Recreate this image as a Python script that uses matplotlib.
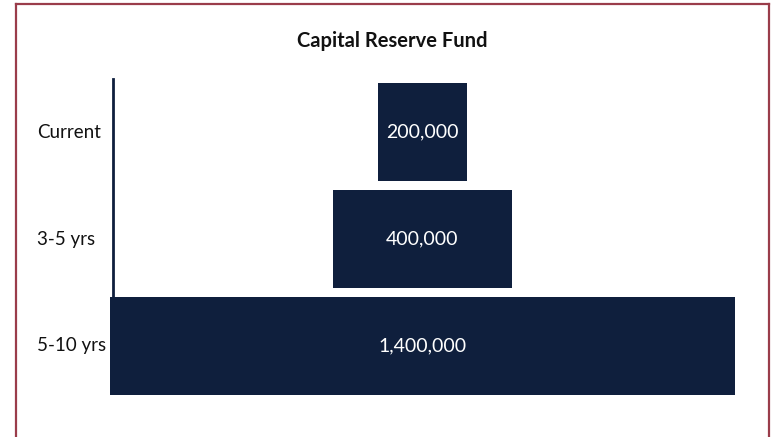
import matplotlib
matplotlib.use("Agg")
import matplotlib.pyplot as plt
import matplotlib.transforms as mtransforms

plt.rcParams['font.family'] = ['Lato', 'DejaVu Sans']

categories = ["Current", "3-5 yrs", "5-10 yrs"]
values = [200000, 400000, 1400000]
value_labels = ["200,000", "400,000", "1,400,000"]

bar_color = '#0f1f3d'
border_color = '#9a3c4a'

fig = plt.figure(figsize=(7.73, 4.37), dpi=100)
W, H = 773, 437

# outer frame (open at the bottom)
top = 1 - 4 / H
for xs, ys in [([16 / W, 16 / W], [0, top]),
               ([769 / W, 769 / W], [0, top]),
               ([16 / W, 769 / W], [top, top])]:
    fig.add_artist(plt.Line2D(xs, ys, transform=fig.transFigure, color=border_color, lw=1.6))

ax = fig.add_axes([110 / W, 1 - 399 / H, 625 / W, 320 / H])

xmax = max(values)
center = xmax / 2
ypos = list(range(len(categories)))
lefts = [center - v / 2 for v in values]
bar_h = 0.92
ax.barh(ypos, values, left=lefts, height=bar_h, color=bar_color, zorder=2)

for y, v, lab in zip(ypos, values, value_labels):
    ax.text(center, y, lab, ha='center', va='center', color='white', fontsize=14, zorder=3)

ax.set_xlim(0, xmax)
ax.set_ylim(len(categories) - 0.5, -0.5)
ax.set_xticks([])
ax.set_yticks([])
for s in ['top', 'right', 'bottom']:
    ax.spines[s].set_visible(False)
ax.spines['left'].set_color(bar_color)
ax.spines['left'].set_linewidth(2)
ax.spines['left'].set_position(('outward', -2))
ax.spines['left'].set_bounds(-0.5, ypos[-1] - bar_h / 2 + 0.02)

trans = mtransforms.blended_transform_factory(fig.transFigure, ax.transData)
for y, c in zip(ypos, categories):
    ax.text(37 / W, y, c, transform=trans, ha='left', va='center', fontsize=13.5, color='#111111')

fig.text(392 / W, 1 - 41 / H, "Capital Reserve Fund", ha='center', va='center',
         fontsize=14.5, fontweight='bold', color='#111111')

fig.savefig("out.png", dpi=100)
